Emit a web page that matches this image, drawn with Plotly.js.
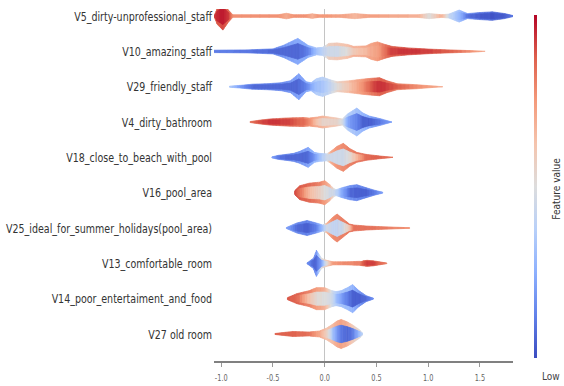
<!DOCTYPE html>
<html>
<head>
<meta charset="utf-8">
<script src="https://cdn.plot.ly/plotly-3.0.1.min.js"></script>
<style>html,body{margin:0;padding:0;background:#fff}#chart{width:564px;height:386px}</style>
</head>
<body>
<div id="chart"></div>
<script>
// ---- DATA (top to bottom) ----
const features = [
  "V5_dirty-unprofessional_staff",
  "V10_amazing_staff",
  "V29_friendly_staff",
  "V4_dirty_bathroom",
  "V18_close_to_beach_with_pool",
  "V16_pool_area",
  "V25_ideal_for_summer_holidays(pool_area)",
  "V13_comfortable_room",
  "V14_poor_entertaiment_and_food",
  "V27 old room"
];
// SHAP value knots, density (half width), feature-value colour of outer and inner layers
const shapV5   = [-1.07,-1.04,-0.985,-0.93,-0.89,-0.45,-0.37,-0.30,-0.18,-0.12,-0.06,0.15,0.29,0.43,0.90,1.01,1.13,1.20,1.30,1.38,1.50,1.62,1.74,1.84];
const densV5   = [0,8,14,6,1.3,1.3,2.8,1.3,1.3,2.3,1.3,1.3,2.6,1.3,1.3,2.6,1.3,2.0,6.0,2.5,3.5,4.2,2.5,0];
const colV5    = [0.88,0.88,0.9,0.86,0.76,0.76,0.7,0.76,0.76,0.68,0.76,0.73,0.66,0.73,0.68,0.5,0.68,0.42,0.3,0.18,0.1,0.07,0.07,0.12];
const inV5     = [0.92,0.95,0.97,0.92,0.76,0.76,0.7,0.76,0.76,0.68,0.76,0.73,0.66,0.73,0.68,0.5,0.68,0.42,0.27,0.08,0.04,0.02,0.04,0.12];

const shapV10  = [-1.08,-0.75,-0.50,-0.40,-0.26,-0.16,-0.08,-0.02,0.04,0.12,0.22,0.28,0.40,0.45,0.51,0.58,0.65,0.80,1.00,1.20,1.40,1.55];
const densV10  = [1.2,1.5,2.5,6,13,6,3.5,4,8,8.5,7,5,5.5,8,9.5,7,5,3.5,2.3,1.5,0.8,0];
const colV10   = [0.12,0.12,0.12,0.18,0.24,0.24,0.32,0.38,0.58,0.6,0.63,0.68,0.7,0.72,0.75,0.83,0.88,0.9,0.9,0.85,0.78,0.68];
const inV10    = [0.12,0.1,0.07,0.07,0.06,0.12,0.3,0.4,0.45,0.45,0.5,0.6,0.65,0.7,0.72,0.83,0.92,0.93,0.92,0.87,0.78,0.68];

const shapV29  = [-0.92,-0.80,-0.70,-0.55,-0.42,-0.33,-0.25,-0.18,-0.13,-0.08,-0.02,0.05,0.12,0.24,0.36,0.46,0.53,0.60,0.70,0.89,1.14];
const densV29  = [0.5,1.5,2.5,3,4,6,13,5,4,8,9.7,7,5,6,7.5,8.5,9,6,3,2,0];
const colV29   = [0.35,0.22,0.12,0.12,0.14,0.18,0.22,0.22,0.27,0.36,0.38,0.42,0.55,0.65,0.74,0.82,0.86,0.86,0.82,0.76,0.68];
const inV29    = [0.35,0.17,0.07,0.07,0.07,0.07,0.07,0.12,0.22,0.3,0.33,0.4,0.5,0.62,0.76,0.9,0.94,0.92,0.87,0.78,0.68];

const shapV4   = [-0.72,-0.62,-0.53,-0.37,-0.21,-0.15,-0.07,-0.02,0.05,0.12,0.17,0.22,0.31,0.37,0.43,0.49,0.55,0.65];
const densV4   = [0.5,2,3,4,4.5,4,5,6,5,4,3,8,14,9,6,4.5,3,0];
const colV4    = [0.82,0.87,0.9,0.88,0.82,0.76,0.7,0.67,0.62,0.6,0.5,0.36,0.32,0.27,0.22,0.18,0.18,0.22];
const inV4     = [0.82,0.9,0.93,0.92,0.85,0.78,0.6,0.55,0.55,0.55,0.45,0.22,0.12,0.05,0.04,0.07,0.12,0.22];

const shapV18  = [-0.51,-0.45,-0.37,-0.30,-0.24,-0.16,-0.10,-0.05,0.02,0.06,0.12,0.18,0.24,0.31,0.40,0.52,0.66];
const densV18  = [0.5,2,3,4,6,10,5,4,3.5,6,11,14,9,5,3,1.5,0];
const colV18   = [0.22,0.14,0.12,0.14,0.17,0.22,0.27,0.32,0.42,0.7,0.76,0.78,0.8,0.82,0.85,0.86,0.82];
const inV18    = [0.22,0.1,0.07,0.07,0.07,0.07,0.17,0.3,0.45,0.45,0.45,0.45,0.5,0.65,0.85,0.87,0.82];

const shapV16  = [-0.29,-0.24,-0.15,-0.05,0.0,0.05,0.08,0.11,0.17,0.24,0.31,0.40,0.48,0.56];
const densV16  = [2,7,9.5,10.5,12,8,5,3,5,7,8,5,2.5,0.5];
const colV16   = [0.9,0.88,0.85,0.8,0.74,0.65,0.55,0.4,0.22,0.17,0.14,0.12,0.14,0.22];
const inV16    = [0.9,0.83,0.65,0.55,0.5,0.45,0.45,0.4,0.22,0.07,0.05,0.05,0.1,0.22];

const shapV25  = [-0.37,-0.27,-0.17,-0.08,-0.02,0.02,0.07,0.12,0.18,0.24,0.28,0.40,0.55,0.82];
const densV25  = [0.5,5,7.5,5,3,5,10,14,9,4,3,2,1.3,0.3];
const colV25   = [0.22,0.14,0.12,0.17,0.3,0.65,0.77,0.79,0.8,0.82,0.83,0.83,0.82,0.76];
const inV25    = [0.22,0.07,0.05,0.12,0.3,0.45,0.42,0.42,0.45,0.6,0.83,0.83,0.82,0.76];

const shapV13  = [-0.17,-0.11,-0.08,-0.03,0.02,0.08,0.20,0.34,0.37,0.41,0.47,0.53,0.60];
const densV13  = [0.5,5,13,5,3,1.5,1.5,2,2.5,3,2.5,1.5,0.3];
const colV13   = [0.17,0.14,0.17,0.5,0.6,0.74,0.78,0.8,0.85,0.88,0.88,0.85,0.8];
const inV13    = [0.17,0.05,0.07,0.2,0.5,0.74,0.78,0.8,0.87,0.92,0.92,0.85,0.8];

const shapV14  = [-0.36,-0.27,-0.15,-0.08,0.0,0.07,0.11,0.16,0.22,0.27,0.33,0.40,0.47];
const densV14  = [1,5,8,11,11,8,7,8,11,14,8,3,0.5];
const colV14   = [0.88,0.87,0.8,0.74,0.68,0.45,0.36,0.32,0.3,0.27,0.17,0.12,0.17];
const inV14    = [0.88,0.85,0.6,0.52,0.5,0.45,0.3,0.2,0.1,0.05,0.05,0.07,0.17];

const shapV27  = [-0.48,-0.31,-0.15,-0.05,0.02,0.08,0.12,0.16,0.22,0.27,0.34,0.37];
const densV27  = [0.5,2.5,2,3,6,10,13,14.5,12,9,4,0.5];
const colV27   = [0.87,0.87,0.83,0.72,0.62,0.65,0.7,0.72,0.68,0.6,0.5,0.4];
const inV27    = [0.87,0.87,0.83,0.7,0.55,0.3,0.17,0.1,0.07,0.1,0.3,0.4];

const xTickVals = [-1.0,-0.5,0.0,0.5,1.0,1.5];
const xTickText = ["-1.0","-0.5","0.0","0.5","1.0","1.5"];

// ---- rendering ----
const rows = [
  [shapV5,densV5,colV5,inV5],[shapV10,densV10,colV10,inV10],[shapV29,densV29,colV29,inV29],
  [shapV4,densV4,colV4,inV4],[shapV18,densV18,colV18,inV18],[shapV16,densV16,colV16,inV16],
  [shapV25,densV25,colV25,inV25],[shapV13,densV13,colV13,inV13],[shapV14,densV14,colV14,inV14],
  [shapV27,densV27,colV27,inV27]
];
const DENS_SCALE = 1/35.3;   // density -> row units
const INNER = 0.6;
const SUB = 5;
const BINS = 60;

const cw = [[0,[59,76,192]],[0.125,[98,130,234]],[0.25,[141,176,254]],[0.375,[184,208,249]],
            [0.5,[221,221,221]],[0.625,[245,196,173]],[0.75,[244,154,123]],[0.875,[222,96,77]],[1,[180,4,38]]];
function cmap(v){
  v = Math.max(0,Math.min(1,v));
  for(let i=0;i<cw.length-1;i++){
    const [a,ca]=cw[i],[b,cb]=cw[i+1];
    if(v<=b){const t=(v-a)/(b-a);
      return 'rgb('+ca.map((c,k)=>Math.round(c+(cb[k]-c)*t)).join(',')+')';}
  }
  return 'rgb(180,4,38)';
}
function makeLayer(layerIdx, frac){
  const bins = {};
  rows.forEach((r,i)=>{
    const yc = features.length-1-i;
    const xs=r[0], ds=r[1], cs=r[layerIdx];
    for(let k=0;k<xs.length-1;k++){
      for(let s=0;s<SUB;s++){
        const t0=s/SUB,t1=(s+1)/SUB,tm=(s+0.5)/SUB;
        const x0=xs[k]+(xs[k+1]-xs[k])*t0, x1=xs[k]+(xs[k+1]-xs[k])*t1;
        const w0=(ds[k]+(ds[k+1]-ds[k])*t0)*DENS_SCALE*frac;
        const w1=(ds[k]+(ds[k+1]-ds[k])*t1)*DENS_SCALE*frac;
        const c=cs[k]+(cs[k+1]-cs[k])*tm;
        const b=Math.round(c*BINS);
        if(!bins[b]) bins[b]={x:[],y:[]};
        bins[b].x.push(x0,x0,x1,x1,x0,null);
        bins[b].y.push(yc-w0,yc+w0,yc+w1,yc-w1,yc-w0,null);
      }
    }
  });
  return Object.keys(bins).map(b=>{
    const col=cmap(b/BINS);
    return {type:'scatter',mode:'lines',x:bins[b].x,y:bins[b].y,fill:'toself',
      fillcolor:col,line:{color:col,width:0.7},hoverinfo:'skip',showlegend:false,connectgaps:false};
  });
}
const traces = [].concat(makeLayer(2,1), makeLayer(3,INNER));
traces.push({type:'scatter',mode:'markers',x:[-5,-5],y:[-5,-5],hoverinfo:'skip',showlegend:false,
  marker:{color:[0,1],cmin:0,cmax:1,size:1,
    colorscale:cw.map(([v,c])=>[v,'rgb('+c.join(',')+')']),showscale:true,
    colorbar:{thickness:3,len:0.975,lenmode:'fraction',y:0.0085,yanchor:'bottom',ypad:0,
      x:1.07,xanchor:'left',xpad:0,outlinewidth:0,showticklabels:false,ticks:''}}});

const F = "DejaVu Sans, sans-serif";
const layout = {
  width:564,height:386,margin:{l:214,r:51,t:9,b:25},
  paper_bgcolor:'#fff',plot_bgcolor:'#fff',showlegend:false,
  xaxis:{range:[-1.07,1.82],showgrid:false,zeroline:true,zerolinecolor:'#c4c4c4',zerolinewidth:1,
    showline:true,linecolor:'#808080',linewidth:2,ticks:'outside',ticklen:4,tickcolor:'#999',tickwidth:1,
    tickvals:xTickVals,ticktext:xTickText,tickfont:{family:F,size:8,color:'#666',stretch:'condensed'},ticklabelstandoff:4,
    fixedrange:true,automargin:false},
  yaxis:{range:[-0.765,9.2],showgrid:false,zeroline:false,showline:false,ticks:'',
    tickvals:features.map((f,i)=>features.length-1-i),ticktext:features,
    tickfont:{family:F,size:13,color:'#333',stretch:'condensed'},ticklabelstandoff:1,fixedrange:true,automargin:false},
  annotations:[
    {text:'Low',xref:'paper',yref:'paper',x:1.127,y:-0.043,showarrow:false,font:{family:F,size:11,color:'#444',stretch:'condensed'},xanchor:'center',yanchor:'middle'},
    {text:'Feature value',xref:'paper',yref:'paper',x:1.147,y:0.49,showarrow:false,textangle:-90,font:{family:F,size:11,color:'#333',stretch:'condensed'},xanchor:'center',yanchor:'middle'}
  ]
};
Plotly.newPlot('chart',traces,layout,{staticPlot:true,displayModeBar:false}).then(gd=>{
  // squeeze labels horizontally (narrow face) if they do not fit the left margin
  const labels = Array.from(gd.querySelectorAll('.ytick text'));
  let maxW = 0;
  labels.forEach(t=>{maxW=Math.max(maxW,t.getComputedTextLength());});
  const avail = 206;
  if(maxW>avail){
    const f = avail/maxW;
    labels.forEach(t=>{
      const L=t.getComputedTextLength();
      t.setAttribute('textLength',(L*f).toFixed(2));
      t.setAttribute('lengthAdjust','spacingAndGlyphs');
    });
    gd.querySelectorAll('.xtick text, .annotation-text').forEach(t=>{
      const L=t.getComputedTextLength();
      t.setAttribute('textLength',(L*0.82).toFixed(2));
      t.setAttribute('lengthAdjust','spacingAndGlyphs');
    });
  }
});
</script>
</body>
</html>
